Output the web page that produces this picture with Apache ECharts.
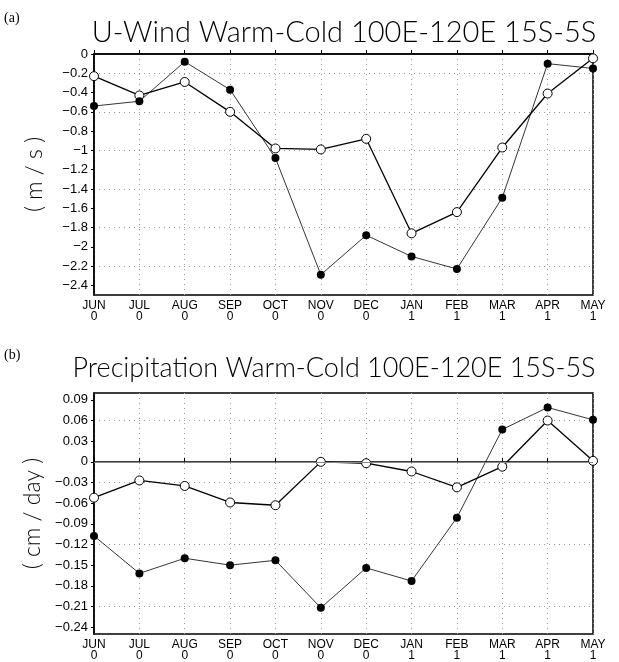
<!DOCTYPE html>
<html>
<head>
<meta charset="utf-8">
<script src="https://cdn.jsdelivr.net/npm/echarts@6/dist/echarts.min.js"></script>
<style>
  html, body { margin: 0; padding: 0; background: #fff; }
  #chart { width: 619px; height: 662px; }
</style>
</head>
<body>
<div id="chart"></div>
<script>
// months along the x axis, year 0 / year 1 under each
const months = ['JUN', 'JUL', 'AUG', 'SEP', 'OCT', 'NOV', 'DEC', 'JAN', 'FEB', 'MAR', 'APR', 'MAY'];
const years = ['0', '0', '0', '0', '0', '0', '0', '1', '1', '1', '1', '1'];

// (a) U-wind, m/s
const windOpen = [-0.23, -0.43, -0.29, -0.60, -0.98, -0.99, -0.88, -1.86, -1.64, -0.97, -0.41, -0.045];
const windFilled = [-0.54, -0.49, -0.08, -0.37, -1.08, -2.29, -1.88, -2.10, -2.23, -1.49, -0.10, -0.15];
const windTicks = [0, -0.2, -0.4, -0.6, -0.8, -1, -1.2, -1.4, -1.6, -1.8, -2, -2.2, -2.4];

// (b) precipitation, cm/day
const precOpen = [-0.052, -0.027, -0.035, -0.059, -0.063, 0.0, -0.002, -0.014, -0.037, -0.007, 0.060, 0.0015];
const precFilled = [-0.1075, -0.162, -0.140, -0.150, -0.143, -0.212, -0.154, -0.173, -0.081, 0.047, 0.079, 0.061];
const precTicks = [0.09, 0.06, 0.03, 0, -0.03, -0.06, -0.09, -0.12, -0.15, -0.18, -0.21, -0.24];

const xLabels = months.map((m, i) => m + '\n' + years[i]);

const labelFont = "'Liberation Sans Narrow', 'Liberation Sans', sans-serif";
const titleFont = "Lato, 'Liberation Sans', sans-serif";

const fmtTick = (ticks, digits) => v => {
    const hit = ticks.find(t => Math.abs(t - v) < 1e-6);
    if (hit === undefined) return '';
    if (hit === 0) return '0';
    let s = Math.abs(hit).toFixed(digits).replace(/0+$/, '').replace(/\.$/, '');
    return (hit < 0 ? '\u2212' : '') + s;
};

const makeX = gridIndex => ({
    type: 'category',
    gridIndex,
    data: xLabels,
    boundaryGap: false,
    axisLine: { show: true, lineStyle: { color: '#000', width: 1.5 } },
    axisTick: { show: true, inside: true, length: 4, interval: 0, lineStyle: { color: '#000', width: 1 } },
    axisLabel: {
        interval: 0, margin: 5, color: '#000',
        fontFamily: labelFont, fontSize: 12, lineHeight: 11
    },
    splitLine: {
        show: true, interval: 0,
        lineStyle: { color: '#999', width: 1, type: [1, 4] }
    }
});

const makeY = (gridIndex, min, max, step, ticks, digits, name, colors) => ({
    type: 'value',
    gridIndex,
    min, max, interval: step,
    name,
    nameLocation: 'middle',
    nameRotate: 90,
    nameGap: 48,
    nameTextStyle: { fontFamily: titleFont, fontWeight: 300, fontSize: 23, color: '#000' },
    axisLine: { show: true, lineStyle: { color: '#000', width: 1.5 } },
    axisTick: { show: true, length: 3, customValues: ticks, lineStyle: { color: '#000', width: 1 } },
    axisLabel: {
        margin: 6, color: '#000',
        fontFamily: labelFont, fontSize: 13,
        formatter: fmtTick(ticks, digits)
    },
    splitLine: {
        show: true,
        lineStyle: { color: colors, width: 1, type: [1, 4] }
    }
});

const openStyle = {
    type: 'line',
    symbol: 'circle',
    symbolSize: 9,
    lineStyle: { color: '#000', width: 1.3 },
    itemStyle: { color: '#fff', borderColor: '#000', borderWidth: 1 },
    clip: false
};
const filledStyle = {
    type: 'line',
    symbol: 'circle',
    symbolSize: 8,
    lineStyle: { color: '#000', width: 0.8 },
    itemStyle: { color: '#000', borderColor: '#000', borderWidth: 0 },
    clip: false
};

const chart = echarts.init(document.getElementById('chart'));
chart.setOption({
    animation: false,
    backgroundColor: '#fff',
    grid: [
        { left: 94, right: 26, top: 54, height: 241, show: true, borderColor: '#000', borderWidth: 1.5, backgroundColor: 'transparent' },
        { left: 94, right: 26, top: 393, height: 241, show: true, borderColor: '#000', borderWidth: 1.5, backgroundColor: 'transparent' }
    ],
    xAxis: [makeX(0), makeX(1)],
    yAxis: [
        makeY(0, -2.5, 0, 0.1, windTicks, 1, '( m / s )', ['rgba(0,0,0,0)', '#999']),
        makeY(1, -0.25, 0.1, 0.01, precTicks, 2, '( cm / day )', ['rgba(0,0,0,0)', '#999', 'rgba(0,0,0,0)'])
    ],
    graphic: [
        { type: 'text', left: 4, top: 11, style: { text: '(a)', font: "14px 'Liberation Serif', serif", fill: '#000' } },
        { type: 'text', left: 4, top: 348, style: { text: '(b)', font: "14px 'Liberation Serif', serif", fill: '#000' } },
        { type: 'text', x: 344, y: 33, style: { text: 'U-Wind Warm-Cold 100E-120E 15S-5S', font: "300 29px " + titleFont, fill: '#000', align: 'center', verticalAlign: 'middle' } },
        { type: 'text', x: 334, y: 368, style: { text: 'Precipitation Warm-Cold 100E-120E 15S-5S', font: "300 27px " + titleFont, fill: '#000', align: 'center', verticalAlign: 'middle' } }
    ],
    series: [
        Object.assign({ name: 'wind open', xAxisIndex: 0, yAxisIndex: 0, data: windOpen }, openStyle),
        Object.assign({ name: 'wind filled', xAxisIndex: 0, yAxisIndex: 0, data: windFilled }, filledStyle),
        Object.assign({
            name: 'prec open', xAxisIndex: 1, yAxisIndex: 1, data: precOpen,
            markLine: {
                silent: true, symbol: 'none', label: { show: false },
                lineStyle: { color: '#888', width: 1, type: 'solid' },
                data: [{ yAxis: 0 }]
            }
        }, openStyle),
        Object.assign({ name: 'prec filled', xAxisIndex: 1, yAxisIndex: 1, data: precFilled }, filledStyle)
    ]
});
</script>
</body>
</html>
